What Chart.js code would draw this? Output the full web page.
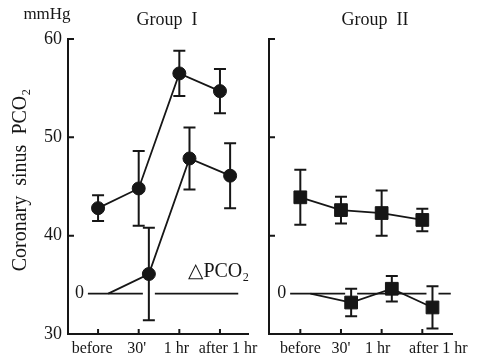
<!DOCTYPE html>
<html>
<head>
<meta charset="utf-8">
<script src="https://cdn.jsdelivr.net/npm/chart.js@4/dist/chart.umd.min.js"></script>
<style>
  html, body { margin: 0; padding: 0; background: #fff; }
  #wrap { position: relative; width: 481px; height: 362px; overflow: hidden; background: #fff; }
  .panel { position: absolute; top: 0; height: 362px; }
  #p1 { left: 0; width: 270px; }
  #p2 { left: 250px; width: 231px; }
</style>
</head>
<body>
<div id="wrap">
  <div class="panel" id="p1"><canvas id="c1" width="270" height="362"></canvas></div>
  <div class="panel" id="p2"><canvas id="c2" width="231" height="362"></canvas></div>
</div>
<script>
// Sampling times
const categories = ['before', "30'", '1 hr', 'after 1 hr'];
const yTickValues = [30, 40, 50, 60];

// Group I: coronary sinus PCO2 (mmHg), mean and error
const g1Pco2 = [42.8, 44.8, 56.5, 54.7];
const g1Pco2Err = [1.3, 3.8, 2.3, 2.25];
// Group I: change in PCO2 from before (mmHg)
const g1Delta = [0, 2.0, 13.75, 12.0];
const g1DeltaErr = [null, 4.7, 3.15, 3.3];

// Group II: coronary sinus PCO2 (mmHg), mean and error
const g2Pco2 = [43.9, 42.6, 42.3, 41.6];
const g2Pco2Err = [2.8, 1.35, 2.3, 1.15];
// Group II: change in PCO2 from before (mmHg)
const g2Delta = [0, -0.9, 0.5, -1.4];
const g2DeltaErr = [null, 1.4, 1.3, 2.15];

// The change curves share the mmHg scale, with their zero drawn at this level
const DELTA_ZERO = 34.1;
const DELTA_SHIFT = 0.25;   // change curves sit slightly right of each time point

const INK = '#161616';
const FONT = "'Liberation Serif', 'DejaVu Serif', serif";
const CAP = 6;

const errorBars = {
  id: 'errorBars',
  beforeDatasetsDraw(chart) {
    const ctx = chart.ctx;
    chart.data.datasets.forEach((ds, i) => {
      if (!ds.errors) return;
      const meta = chart.getDatasetMeta(i);
      const xs = chart.scales[meta.xAxisID];
      const ys = chart.scales[meta.yAxisID];
      ctx.save();
      ctx.strokeStyle = INK;
      ctx.lineWidth = 2;
      ds.data.forEach((pt, j) => {
        const e = ds.errors[j];
        if (e == null) return;
        const x = xs.getPixelForValue(pt.x);
        const y1 = ys.getPixelForValue(pt.y + e);
        const y2 = ys.getPixelForValue(pt.y - e);
        ctx.beginPath();
        ctx.moveTo(x, y1); ctx.lineTo(x, y2);
        ctx.moveTo(x - CAP, y1); ctx.lineTo(x + CAP, y1);
        ctx.moveTo(x - CAP, y2); ctx.lineTo(x + CAP, y2);
        ctx.stroke();
      });
      ctx.restore();
    });
  }
};

// Zero reference line of the change curves, broken where an error bar crosses it
const zeroLine = {
  id: 'zeroLine',
  beforeDatasetsDraw(chart, args, opts) {
    const ctx = chart.ctx;
    const xs = chart.scales.x;
    const yd = chart.scales.yDelta;
    const y = yd.getPixelForValue(0);
    const x0 = xs.getPixelForValue(opts.from);
    const x1 = xs.getPixelForValue(opts.to);
    const gaps = [];
    chart.data.datasets.forEach(ds => {
      if (!ds.errors || ds.yAxisID !== 'yDelta') return;
      ds.data.forEach((pt, j) => {
        const e = ds.errors[j];
        if (e == null) return;
        if (pt.y - e < 0 && pt.y + e > 0) {
          const gx = xs.getPixelForValue(pt.x);
          gaps.push([gx - 6, gx + 6]);
        }
      });
    });
    gaps.sort((a, b) => a[0] - b[0]);
    ctx.save();
    ctx.strokeStyle = INK;
    ctx.lineWidth = 1.8;
    ctx.beginPath();
    let cur = x0;
    gaps.forEach(g => {
      ctx.moveTo(cur, y); ctx.lineTo(g[0], y);
      cur = g[1];
    });
    ctx.moveTo(cur, y); ctx.lineTo(x1, y);
    ctx.stroke();
    ctx.fillStyle = INK;
    ctx.font = '18px ' + FONT;
    ctx.textAlign = 'right';
    ctx.textBaseline = 'middle';
    ctx.fillText('0', x0 - 4, y);
    ctx.restore();
  }
};

// Tick marks pointing into the plot, and the time labels under the axis
const inwardTicks = {
  id: 'inwardTicks',
  afterDraw(chart, args, opts) {
    const ctx = chart.ctx;
    const xs = chart.scales.x, ys = chart.scales.y;
    const a = chart.chartArea;
    ctx.save();
    ctx.strokeStyle = INK;
    ctx.lineWidth = 2;
    ctx.beginPath();
    yTickValues.forEach(v => {
      if (v === ys.min) return;
      const y = ys.getPixelForValue(v);
      ctx.moveTo(a.left, y); ctx.lineTo(a.left + 6, y);
    });
    categories.forEach((c, i) => {
      const x = xs.getPixelForValue(i);
      ctx.moveTo(x, a.bottom); ctx.lineTo(x, a.bottom - 5);
    });
    ctx.stroke();
    ctx.fillStyle = INK;
    ctx.font = '16px ' + FONT;
    ctx.textAlign = 'center';
    ctx.textBaseline = 'middle';
    const shift = opts.labelShift || [];
    categories.forEach((c, i) => {
      const x = xs.getPixelForValue(i) + (shift[i] || 0);
      ctx.fillText(c, x, a.bottom + 15);
    });
    ctx.restore();
  }
};

// Free text: titles and labels
const texts = {
  id: 'texts',
  afterDraw(chart, args, opts) {
    const ctx = chart.ctx;
    ctx.save();
    ctx.fillStyle = INK;
    (opts.items || []).forEach(t => {
      ctx.save();
      ctx.font = t.size + 'px ' + FONT;
      ctx.textAlign = t.align || 'center';
      ctx.textBaseline = 'middle';
      ctx.translate(t.x, t.y);
      if (t.rotate) ctx.rotate(t.rotate);
      ctx.fillText(t.text, 0, 0);
      ctx.restore();
    });
    ctx.restore();
  }
};

function makeChart(canvasId, pco2, pco2Err, delta, deltaErr, pointStyle, radius, opts) {
  return new Chart(document.getElementById(canvasId), {
    type: 'scatter',
    data: {
      datasets: [
        {
          label: 'PCO2',
          data: categories.map((c, i) => ({ x: i, y: pco2[i] })),
          errors: pco2Err,
          yAxisID: 'y',
          showLine: true,
          borderColor: INK,
          borderWidth: 1.8,
          backgroundColor: INK,
          pointStyle: pointStyle,
          pointRadius: radius,
          pointBorderWidth: 1,
          pointBorderColor: INK,
          pointBackgroundColor: INK
        },
        {
          label: 'ΔPCO2',
          data: categories.map((c, i) => ({ x: i + DELTA_SHIFT, y: delta[i] })),
          errors: deltaErr,
          yAxisID: 'yDelta',
          showLine: true,
          borderColor: INK,
          borderWidth: 1.8,
          backgroundColor: INK,
          pointStyle: pointStyle,
          pointRadius: ctx => (ctx.dataIndex === 0 ? 0 : radius),
          pointBorderWidth: 1,
          pointBorderColor: INK,
          pointBackgroundColor: INK
        }
      ]
    },
    options: {
      responsive: false,
      animation: false,
      devicePixelRatio: 1,
      layout: { padding: { top: 39, right: opts.padRight, left: 0, bottom: 0 } },
      plugins: {
        legend: { display: false },
        tooltip: { enabled: false },
        zeroLine: { from: -0.25, to: opts.zeroTo },
        inwardTicks: { labelShift: opts.labelShift },
        texts: { items: opts.texts }
      },
      scales: {
        x: {
          type: 'linear',
          min: opts.xMin,
          max: opts.xMax,
          grid: { display: false, drawTicks: false },
          border: { display: true, color: INK, width: 2 },
          afterBuildTicks: s => { s.ticks = categories.map((c, i) => ({ value: i })); },
          afterFit: s => { s.height = 28; s.paddingLeft = 0; s.paddingRight = 0; },
          ticks: { display: false }
        },
        y: {
          type: 'linear',
          min: 30,
          max: 60,
          grid: { display: false, drawTicks: false },
          border: { display: true, color: INK, width: 2 },
          afterBuildTicks: s => { s.ticks = yTickValues.map(v => ({ value: v })); },
          afterFit: s => { s.width = opts.yWidth; },
          ticks: {
            display: opts.yLabels,
            color: INK,
            font: { family: FONT, size: 18 },
            padding: 6
          }
        },
        yDelta: {
          type: 'linear',
          display: false,
          min: 30 - DELTA_ZERO,
          max: 60 - DELTA_ZERO
        }
      }
    },
    plugins: [zeroLine, errorBars, inwardTicks, texts]
  });
}

makeChart('c1', g1Pco2, g1Pco2Err, g1Delta, g1DeltaErr, 'circle', 6.5, {
  xMin: -0.74, xMax: 3.69, zeroTo: 3.45, padRight: 22, yWidth: 68, yLabels: true,
  labelShift: [-6, -2, -3, 8],
  texts: [
    { text: 'mmHg', x: 47, y: 15, size: 17 },
    { text: 'Group  I', x: 167, y: 20, size: 18 },
    { text: 'Coronary  sinus  PCO\u2082', x: 21, y: 180, size: 20, rotate: -Math.PI / 2 },
    { text: '\u25B3PCO\u2082', x: 188, y: 272, size: 20, align: 'left' }
  ]
});

makeChart('c2', g2Pco2, g2Pco2Err, g2Delta, g2DeltaErr, 'rect', 9, {
  xMin: -0.77, xMax: 3.73, zeroTo: 3.7, padRight: 29, yWidth: 19, yLabels: false,
  labelShift: [0, 0, -4, 16],
  texts: [
    { text: 'Group  II', x: 125, y: 20, size: 18 }
  ]
});
</script>
</body>
</html>
